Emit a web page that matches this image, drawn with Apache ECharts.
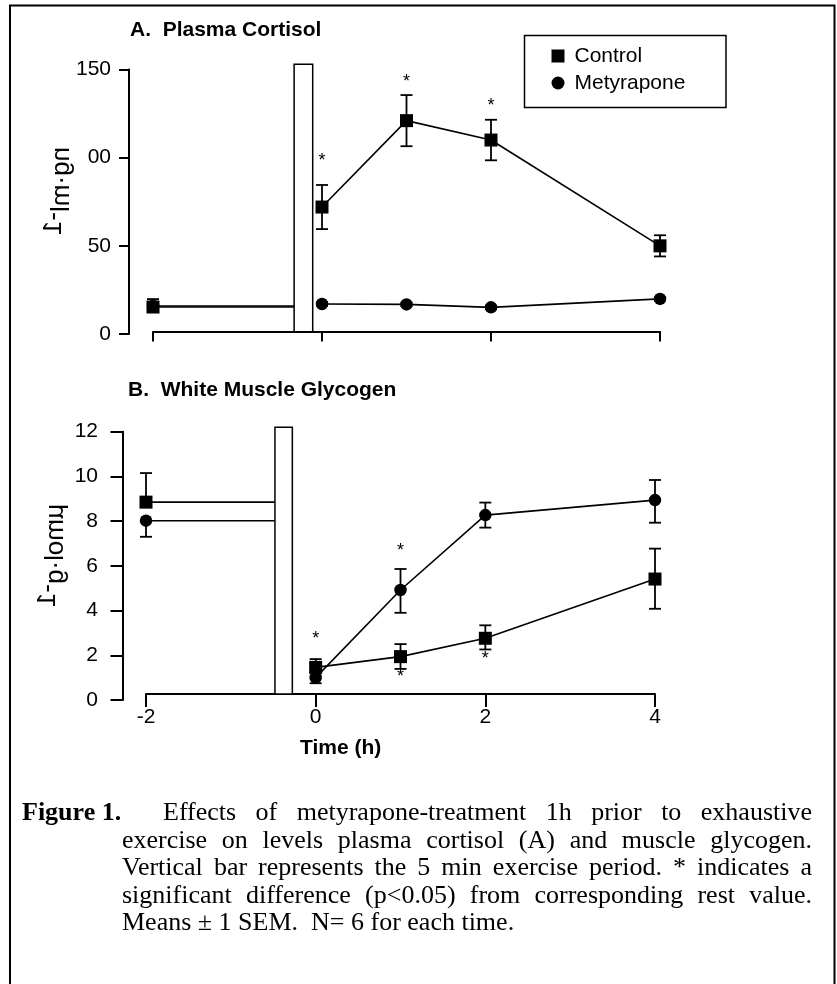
<!DOCTYPE html>
<html><head><meta charset="utf-8">
<script src="https://cdn.jsdelivr.net/npm/echarts/dist/echarts.min.js"></script>
<style>html,body{margin:0;padding:0;background:#fff}#c{width:837px;height:984px}</style>
</head><body><div id="c"></div>
<script>
// ---------------- DATA ----------------
const times = [-2, 0, 1, 2, 4];
// Panel A: plasma cortisol
const cortisolControl        = [15.3, 72, 121, 110, 50];
const cortisolControlErrUp   = [4.5, 12.5, 14.5, 11.5, 6];
const cortisolControlErrDown = [0, 12.5, 14.5, 11.5, 6];
const cortisolMetyrapone     = [15.9, 17, 16.8, 15.1, 19.9];
const cortisolMetyraponeErr  = [1, 1, 1, 1, 1];
const cortisolTicks      = [0, 50, 100, 150];
const cortisolTickLabels = ['0', '50', '00', '150'];
const cortisolStars = [[0, 100.4], [1, 145.2], [2, 131.6]];
const exerciseBarA  = [-0.33, -0.11, 1.3, 153];   // x start, x end, bottom, top
// Panel B: white muscle glycogen
const glycogenControl          = [8.85, 1.46, 1.94, 2.76, 5.41];
const glycogenControlErrUp     = [1.3, 0.37, 0.56, 0.58, 1.36];
const glycogenControlErrDown   = [0, 0.37, 0.55, 0.5, 1.33];
const glycogenMetyrapone       = [8.02, 1.0, 4.92, 8.27, 8.94];
const glycogenMetyraponeErrUp  = [0, 0.25, 0.94, 0.56, 0.9];
const glycogenMetyraponeErrDown= [0.72, 0.25, 1.02, 0.56, 1.01];
const glycogenTicks = [0, 2, 4, 6, 8, 10, 12];
const glycogenStars = [[0, 2.91], [1, 6.86], [1, 1.21], [2, 2.01]];
const exerciseBarB  = [-0.48, -0.275, 0.27, 12.2];
const timeTicks = [-2, 0, 2, 4];
// texts
const titleA = 'A.  Plasma Cortisol';
const titleB = 'B.  White Muscle Glycogen';
const yNameA = ['ng·ml', '-1'];
const yNameB = ['µmol·g', '-1'];
const xName = 'Time (h)';
const legendNames = ['Control', 'Metyrapone'];
const captionLabel = 'Figure 1.';
const captionLines = [
  'Effects of metyrapone-treatment 1h prior to exhaustive',
  'exercise on levels plasma cortisol (A) and muscle glycogen.',
  'Vertical bar represents the 5 min exercise period. * indicates a',
  'significant difference (p<0.05) from corresponding rest value.',
  'Means \u00b1 1 SEM.  N= 6 for each time.'
];

// ---------------- CHART ----------------
const SANS = '"Liberation Sans", Arial, sans-serif';
const SERIF = '"Liberation Serif", "Times New Roman", serif';
const chart = echarts.init(document.getElementById('c'), null, {renderer: 'canvas', width: 837, height: 984});

function xAxisCfg(gi, showLabels, tickLen, offset) {
  return {
    type: 'value', gridIndex: gi, min: -2, max: 4, interval: 2, offset: offset,
    axisLine: {show: true, onZero: false, lineStyle: {color: '#000', width: 2}},
    axisTick: {show: true, length: tickLen, lineStyle: {color: '#000', width: 2}},
    axisLabel: {show: showLabels, color: '#000', fontSize: 21, fontFamily: SANS, margin: 12.5,
      showMinLabel: true, showMaxLabel: true,
      formatter: v => timeTicks.indexOf(v) >= 0 ? String(v) : ''},
    splitLine: {show: false}
  };
}
function yAxisCfg(gi, max, interval, offset, tickLen, margin, labelFn) {
  return {
    type: 'value', gridIndex: gi, min: 0, max: max, interval: interval, offset: offset, position: 'left',
    axisLine: {show: true, onZero: false, lineStyle: {color: '#000', width: 2}},
    axisTick: {show: true, length: tickLen, lineStyle: {color: '#000', width: 2}},
    axisLabel: {color: '#000', fontSize: 21, fontFamily: SANS, margin: margin,
      showMinLabel: true, showMaxLabel: true, formatter: labelFn},
    splitLine: {show: false}
  };
}

function restSeries(name, gi, vals, barStart, symbol, size, z) {
  return {
    type: 'line', name: name, xAxisIndex: gi, yAxisIndex: gi, z: z,
    data: [{value: [times[0], vals[0]]}, {value: [barStart, vals[0]], symbol: 'none'}],
    symbol: symbol, symbolSize: size, showSymbol: true,
    itemStyle: {color: '#000', borderWidth: 0}, lineStyle: {color: '#000', width: 1.6},
    silent: true
  };
}
function postSeries(name, gi, vals, symbol, size, z) {
  return {
    type: 'line', name: name, xAxisIndex: gi, yAxisIndex: gi, z: z,
    data: times.slice(1).map((t, i) => [t, vals[i + 1]]),
    symbol: symbol, symbolSize: size, showSymbol: true, showAllSymbol: true,
    itemStyle: {color: '#000', borderWidth: 0}, lineStyle: {color: '#000', width: 1.6},
    silent: true
  };
}
function errSeries(gi, vals, up, down) {
  const data = times.map((t, i) => [t, vals[i] - down[i], vals[i] + up[i]]);
  return {
    type: 'custom', xAxisIndex: gi, yAxisIndex: gi, z: 1, silent: true, clip: false,
    data: data,
    renderItem: (params, api) => {
      const x = api.value(0);
      const lo = api.coord([x, api.value(1)]);
      const hi = api.coord([x, api.value(2)]);
      const hw = 6, st = {stroke: '#000', lineWidth: 1.8};
      return {type: 'group', children: [
        {type: 'line', shape: {x1: hi[0], y1: hi[1], x2: lo[0], y2: lo[1]}, style: st},
        {type: 'line', shape: {x1: hi[0] - hw, y1: hi[1], x2: hi[0] + hw, y2: hi[1]}, style: st},
        {type: 'line', shape: {x1: lo[0] - hw, y1: lo[1], x2: lo[0] + hw, y2: lo[1]}, style: st}
      ]};
    }
  };
}
function barSeries(gi, bar) {
  return {
    type: 'custom', xAxisIndex: gi, yAxisIndex: gi, z: 5, silent: true, clip: false,
    data: [bar],
    renderItem: (params, api) => {
      const p0 = api.coord([api.value(0), api.value(3)]);
      const p1 = api.coord([api.value(1), api.value(2)]);
      return {type: 'rect', shape: {x: p0[0], y: p0[1], width: p1[0] - p0[0], height: p1[1] - p0[1]},
        style: {fill: '#fff', stroke: '#000', lineWidth: 1.5}};
    }
  };
}
function starSeries(gi, stars) {
  return {
    type: 'custom', xAxisIndex: gi, yAxisIndex: gi, z: 6, silent: true, clip: false,
    data: stars,
    renderItem: (params, api) => {
      const p = api.coord([api.value(0), api.value(1)]);
      return {type: 'text', x: p[0], y: p[1] + 4.3,
        style: {text: '*', font: '18px ' + SANS, fill: '#000', align: 'center', verticalAlign: 'middle'}};
    }
  };
}

// ---- graphic text helpers ----
const mctx = document.createElement('canvas').getContext('2d');
function textWidth(t, font) { mctx.font = font; return mctx.measureText(t).width; }
const graphics = [];
// outer frame
graphics.push({type: 'rect', shape: {x: 10, y: 5.5, width: 824.5, height: 1000}, style: {fill: 'none', stroke: '#000', lineWidth: 2}, silent: true, z: 0});
// legend frame
graphics.push({type: 'rect', shape: {x: 524.5, y: 35.5, width: 201.5, height: 72}, style: {fill: 'none', stroke: '#000', lineWidth: 1.5}, silent: true});
// panel titles and axis name
graphics.push({type: 'text', x: 130, y: 30, style: {text: titleA, font: 'bold 21px ' + SANS, fill: '#000', align: 'left', verticalAlign: 'middle'}, silent: true});
graphics.push({type: 'text', x: 128, y: 390, style: {text: titleB, font: 'bold 21px ' + SANS, fill: '#000', align: 'left', verticalAlign: 'middle'}, silent: true});
graphics.push({type: 'text', x: 300, y: 748, style: {text: xName, font: 'bold 21px ' + SANS, fill: '#000', align: 'left', verticalAlign: 'middle'}, silent: true});
// vertical (transposed) y axis names
function yName(parts, x0, y0, raise) {
  const f = '26px ' + SANS;
  const w = textWidth(parts[0], f);
  graphics.push({type: 'text', x: x0, y: y0, rotation: Math.PI / 2, scaleX: -1,
    style: {text: parts[0], font: f, fill: '#000', align: 'left', verticalAlign: 'middle'}, silent: true});
  graphics.push({type: 'text', x: x0 - raise, y: y0 + w, rotation: Math.PI / 2, scaleX: -1,
    style: {text: parts[1], font: f, fill: '#000', align: 'left', verticalAlign: 'middle'}, silent: true});
}
yName(yNameA, 62, 147, 8);
yName(yNameB, 56, 504, 8);
// caption, justified word by word
const capFS = 26, capSX = 1.0;
const capFont = capFS + 'px ' + SERIF, capBold = 'bold ' + capFS + 'px ' + SERIF;
const capBase = [822, 849.5, 877, 904.5, 932];
function capLine(text, font, x0, x1, baseline, justify) {
  const y = baseline - 0.3375 * capFS;
  if (!justify) {
    graphics.push({type: 'text', x: x0, y: y, scaleX: capSX, style: {text: text, font: font, fill: '#000', align: 'left', verticalAlign: 'middle'}, silent: true});
    return;
  }
  const ws = text.split(' ');
  const widths = ws.map(w => textWidth(w, font) * capSX);
  const total = widths.reduce((a, b) => a + b, 0);
  const gap = (x1 - x0 - total) / (ws.length - 1);
  let x = x0;
  ws.forEach((w, i) => {
    graphics.push({type: 'text', x: x, y: y, scaleX: capSX, style: {text: w, font: font, fill: '#000', align: 'left', verticalAlign: 'middle'}, silent: true});
    x += widths[i] + gap;
  });
}
capLine(captionLabel, capBold, 22, 0, capBase[0], false);
capLine(captionLines[0], capFont, 163, 812, capBase[0], true);
capLine(captionLines[1], capFont, 122, 812, capBase[1], true);
capLine(captionLines[2], capFont, 122, 812, capBase[2], true);
capLine(captionLines[3], capFont, 122, 812, capBase[3], true);
capLine(captionLines[4], capFont, 122, 812, capBase[4], false);

const option = {
  animation: false,
  backgroundColor: '#fff',
  grid: [
    {left: 153, top: 69.5, width: 507, height: 264.5, containLabel: false, outerBoundsMode: 'none'},
    {left: 146, top: 431.7, width: 509, height: 268.3, containLabel: false, outerBoundsMode: 'none'}
  ],
  xAxis: [xAxisCfg(0, false, 10, -2.5), xAxisCfg(1, true, 13, -6)],
  yAxis: [
    yAxisCfg(0, 150, 50, 24, 10, 18, v => cortisolTickLabels[cortisolTicks.indexOf(v)]),
    yAxisCfg(1, 12, 2, 23, 12.5, 25, v => glycogenTicks.indexOf(v) >= 0 ? String(v) : '')
  ],
  legend: {
    show: true, orient: 'vertical', left: 551.5, top: 42.5, padding: 0, itemGap: 0,
    itemWidth: 13, itemHeight: 13, selectedMode: false,
    textStyle: {color: '#000', fontSize: 21, fontFamily: SANS, lineHeight: 27, padding: [0, 0, 0, 5]},
    itemStyle: {color: '#000', borderWidth: 0},
    data: [{name: legendNames[0], icon: 'rect'}, {name: legendNames[1], icon: 'circle'}]
  },
  series: [
    errSeries(0, cortisolMetyrapone, cortisolMetyraponeErr, cortisolMetyraponeErr),
    errSeries(0, cortisolControl, cortisolControlErrUp, cortisolControlErrDown),
    restSeries(legendNames[1], 0, cortisolMetyrapone, exerciseBarA[0], 'circle', 12.5, 2),
    postSeries(legendNames[1], 0, cortisolMetyrapone, 'circle', 12.5, 2),
    restSeries(legendNames[0], 0, cortisolControl, exerciseBarA[0], 'rect', 13, 3),
    postSeries(legendNames[0], 0, cortisolControl, 'rect', 13, 3),
    barSeries(0, exerciseBarA),
    starSeries(0, cortisolStars),

    errSeries(1, glycogenMetyrapone, glycogenMetyraponeErrUp, glycogenMetyraponeErrDown),
    errSeries(1, glycogenControl, glycogenControlErrUp, glycogenControlErrDown),
    restSeries(legendNames[1], 1, glycogenMetyrapone, exerciseBarB[0], 'circle', 12.5, 2),
    postSeries(legendNames[1], 1, glycogenMetyrapone, 'circle', 12.5, 2),
    restSeries(legendNames[0], 1, glycogenControl, exerciseBarB[0], 'rect', 13, 3),
    postSeries(legendNames[0], 1, glycogenControl, 'rect', 13, 3),
    barSeries(1, exerciseBarB),
    starSeries(1, glycogenStars)
  ],
  graphic: graphics
};
chart.setOption(option);
</script></body></html>
